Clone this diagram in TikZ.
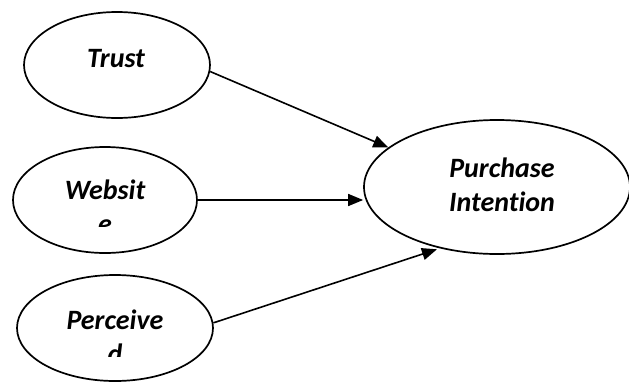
\documentclass[tikz,border=0pt]{standalone}
\usepackage{fontspec}
\setmainfont{Carlito}[Ligatures=NoCommon]
\usetikzlibrary{shapes.geometric,arrows.meta}
\tikzset{
  oval/.style={draw=black, line width=1.7pt, ellipse, inner sep=0pt},
  lbl/.style={anchor=base, inner sep=0pt, font=\fontsize{28}{34}\selectfont\bfseries\itshape},
  link/.style={line width=1.6pt, -{Triangle[length=15pt,width=12pt]}}
}
\begin{document}
\begin{tikzpicture}[x=1pt,y=-1pt]
\useasboundingbox (0,0) rectangle (629,381);
\fill[white] (0,0) rectangle (629,381);
\node[oval, minimum width=186pt, minimum height=106pt] (trust) at (117,65) {};
\node[oval, minimum width=184pt, minimum height=106pt] (web) at (105,200) {};
\node[oval, minimum width=196pt, minimum height=106pt] (perc) at (115,328) {};
\node[oval, minimum width=266pt, minimum height=134pt] (pi) at (497,187) {};
\node[lbl] (ttrust) at (116,67.5) {Trust};
\begin{scope}
  \clip (0,140) rectangle (220,226);
  \node[lbl] (tweb1) at (105,199) {Websit};
  \node[lbl] (tweb2) at (105,233) {e};
\end{scope}
\begin{scope}
  \clip (0,270) rectangle (220,356);
  \node[lbl] (tperc1) at (115,329) {Perceive};
  \node[lbl] (tperc2) at (115,363) {d};
\end{scope}
\node[lbl] (tpi1) at (502,177) {Purchase};
\node[lbl] (tpi2) at (502,211) {Intention};
\draw[link] (trust.-4) -- (pi.160);
\draw[link] (web.east) -- (web.east -| pi.west);
\draw[link, shorten >=3pt] (perc.3) -- (pi.227);
\end{tikzpicture}
\end{document}
